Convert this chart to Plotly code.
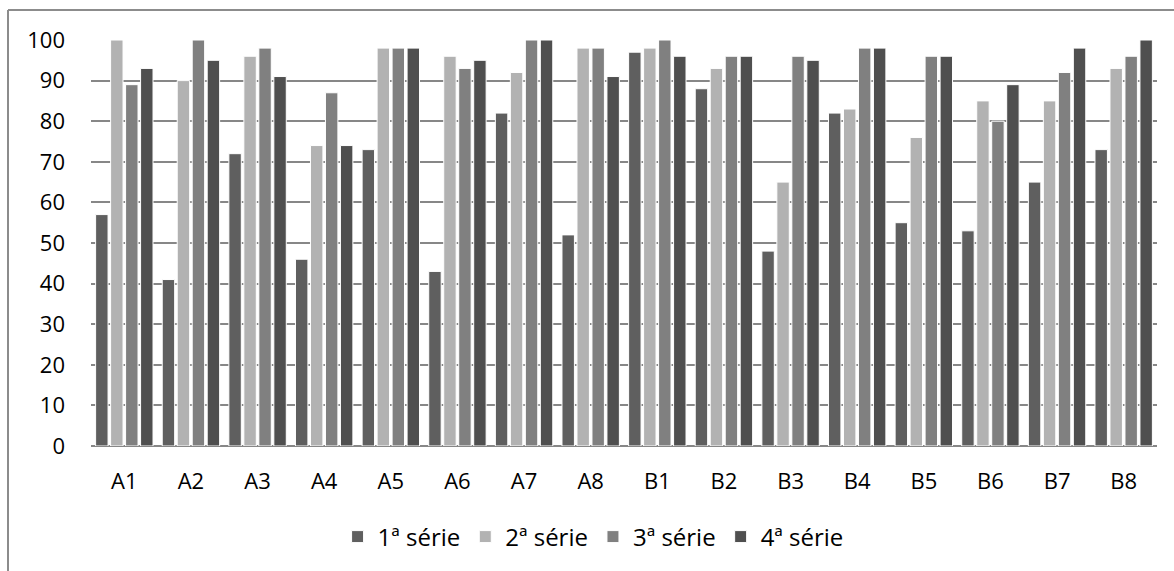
import plotly.graph_objects as go

categories = ["A1", "A2", "A3", "A4", "A5", "A6", "A7", "A8",
              "B1", "B2", "B3", "B4", "B5", "B6", "B7", "B8"]
serie1 = [57, 41, 72, 46, 73, 43, 82, 52, 97, 88, 48, 82, 55, 53, 65, 73]
serie2 = [100, 90, 96, 74, 98, 96, 92, 98, 98, 93, 65, 83, 76, 85, 85, 93]
serie3 = [89, 100, 98, 87, 98, 93, 100, 98, 100, 96, 96, 98, 96, 80, 92, 96]
serie4 = [93, 95, 91, 74, 98, 95, 100, 91, 96, 96, 95, 98, 96, 89, 98, 100]
series_names = ["1ª série", "2ª série", "3ª série", "4ª série"]
series_values = [serie1, serie2, serie3, serie4]
colors = ["#5f5f5f", "#b2b2b2", "#808080", "#4f4f4f"]

W, H = 1174, 571
L, R, T, B = 91, 17, 40, 125
pw, ph = W - L - R, H - T - B

fig = go.Figure()
for name, vals, c in zip(series_names, series_values, colors):
    fig.add_trace(go.Bar(x=categories, y=vals, name=name,
                         marker=dict(color=c, line=dict(color="white", width=1))))

font_family = "Open Sans, Liberation Sans, sans-serif"

def px_x(p):
    return (p - L) / pw

def px_y(p):
    return 1 - (p - T) / ph

border = "#8c8c8c"
fig.add_shape(type="line", xref="paper", yref="paper",
              x0=px_x(8), x1=px_x(1180), y0=px_y(10), y1=px_y(10),
              line=dict(color=border, width=2))
fig.add_shape(type="line", xref="paper", yref="paper",
              x0=px_x(8), x1=px_x(8), y0=px_y(10), y1=px_y(580),
              line=dict(color=border, width=2))

fig.update_layout(
    width=W, height=H,
    margin=dict(l=L, r=R, t=T, b=B, autoexpand=False),
    paper_bgcolor="white", plot_bgcolor="white",
    barmode="group", bargap=0.1, bargroupgap=0.17,
    font=dict(family=font_family, size=22, color="#000000"),
    showlegend=True,
    legend=dict(orientation="h", x=0.471, xanchor="center",
                y=px_y(537), yanchor="middle",
                font=dict(size=24), itemclick=False, traceorder="normal"),
    xaxis=dict(showgrid=False, ticks="", showline=False, zeroline=False,
               automargin=False,
               tickfont=dict(size=22), ticklabelstandoff=20),
    yaxis=dict(range=[0, 100], dtick=10, showgrid=True, gridcolor="#878787",
               gridwidth=2, zeroline=True, zerolinecolor="#878787",
               zerolinewidth=2, showline=False, ticks="", automargin=False,
               tickfont=dict(size=22), ticklabelstandoff=25),
)

fig.write_html("out.html",
               config={"displayModeBar": False},
               post_script="document.body.style.margin='0';document.body.style.overflow='hidden';")
